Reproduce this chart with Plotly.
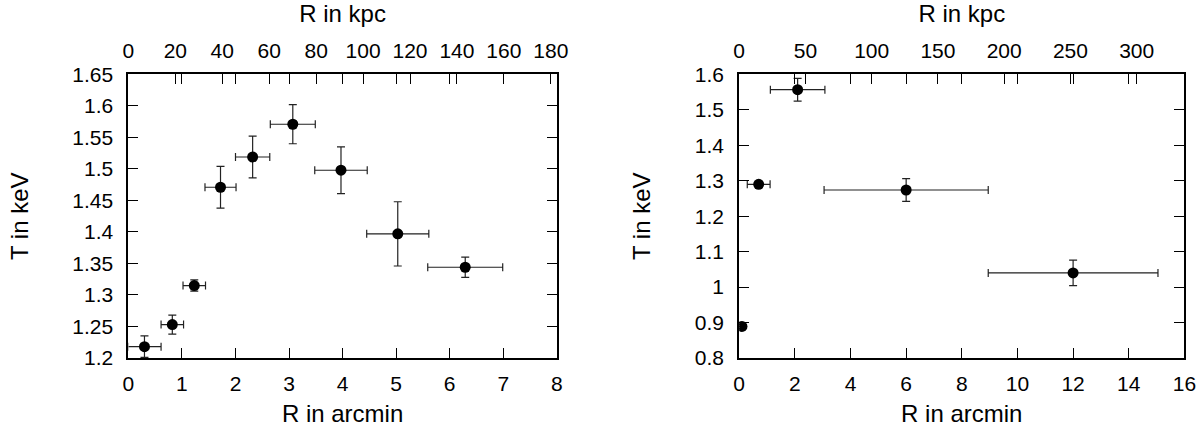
import plotly.graph_objects as go

# left panel: T profile, radius in arcmin
r_left = [0.30, 0.82, 1.23, 1.72, 2.32, 3.07, 3.97, 5.03, 6.29]
r_left_err = [0.31, 0.21, 0.21, 0.29, 0.32, 0.42, 0.49, 0.58, 0.70]
t_left = [1.218, 1.253, 1.315, 1.471, 1.519, 1.571, 1.498, 1.397, 1.344]
t_left_err = [0.017, 0.015, 0.009, 0.033, 0.033, 0.031, 0.037, 0.051, 0.016]

# right panel
r_right = [0.10, 0.70, 2.10, 6.0, 12.0]
r_right_err = [0.12, 0.41, 0.98, 2.95, 3.05]
t_right = [0.889, 1.290, 1.557, 1.274, 1.040]
t_right_err = [0.006, 0.008, 0.032, 0.032, 0.036]

# kpc per arcmin for the top axes
kpc_left = 22.82
kpc_right = 21.0

font = "Liberation Sans, Arial, sans-serif"
tickfont = dict(family=font, size=21, color="black")
titlefont = dict(family=font, size=24, color="black")


def points(x, xe, y, ye, xa, ya):
    return go.Scatter(
        x=x, y=y, xaxis=xa, yaxis=ya,
        mode="markers",
        marker=dict(color="black", size=11),
        error_x=dict(type="data", array=xe, color="#222", thickness=1.2, width=4),
        error_y=dict(type="data", array=ye, color="#222", thickness=1.2, width=4),
        showlegend=False,
    )


def ghost(x, y, xa, ya):
    # invisible copy so the kpc axis on top gets drawn
    return go.Scatter(x=x, y=y, xaxis=xa, yaxis=ya, mode="markers",
                      marker=dict(opacity=0), hoverinfo="skip", showlegend=False)


fig = go.Figure()
fig.add_trace(points(r_left, r_left_err, t_left, t_left_err, "x", "y"))
fig.add_trace(points(r_right, r_right_err, t_right, t_right_err, "x2", "y2"))
fig.add_trace(ghost([r * kpc_left for r in r_left], t_left, "x3", "y"))
fig.add_trace(ghost([r * kpc_right for r in r_right], t_right, "x4", "y2"))

ax = dict(
    showgrid=False, zeroline=False, showline=True, linecolor="black", linewidth=2,
    ticks="inside", ticklen=10, tickwidth=1.3, tickcolor="black", mirror="ticks",
    tickfont=tickfont, automargin=False,
)

ydom = [0.1636, 0.826]
fig.update_layout(
    width=1200, height=428,
    margin=dict(l=0, r=0, t=0, b=0),
    paper_bgcolor="white", plot_bgcolor="white",
    xaxis=dict(ax, domain=[0.107, 0.464], range=[0, 8], dtick=1, anchor="y",
               ticklabelstandoff=6,
               title=dict(text="R in arcmin", font=titlefont, standoff=11)),
    yaxis=dict(ax, domain=ydom, range=[1.2, 1.65], dtick=0.05, anchor="x",
               ticklabelstandoff=9,
               title=dict(text="T in keV", font=titlefont, standoff=37)),
    xaxis2=dict(ax, domain=[0.616, 0.987], range=[0, 16], dtick=2, anchor="y2",
                ticklabelstandoff=6,
                title=dict(text="R in arcmin", font=titlefont, standoff=11)),
    yaxis2=dict(ax, domain=ydom, range=[0.8, 1.6], dtick=0.1, anchor="x2",
                ticklabelstandoff=9,
                title=dict(text="T in keV", font=titlefont, standoff=37)),
    xaxis3=dict(ax, mirror=False, overlaying="x", side="top", anchor="y",
                range=[0, 8 * kpc_left], dtick=20, ticklabelstandoff=6,
                title=dict(text="R in kpc", font=titlefont, standoff=17)),
    xaxis4=dict(ax, mirror=False, overlaying="x2", side="top", anchor="y2",
                range=[0, 16 * kpc_right], dtick=50, ticklabelstandoff=6,
                title=dict(text="R in kpc", font=titlefont, standoff=17)),
)

# page has an 8px body margin by default, drop it
fig.write_html("out.html", config={"displayModeBar": False},
               post_script="document.body.style.margin='0';")
